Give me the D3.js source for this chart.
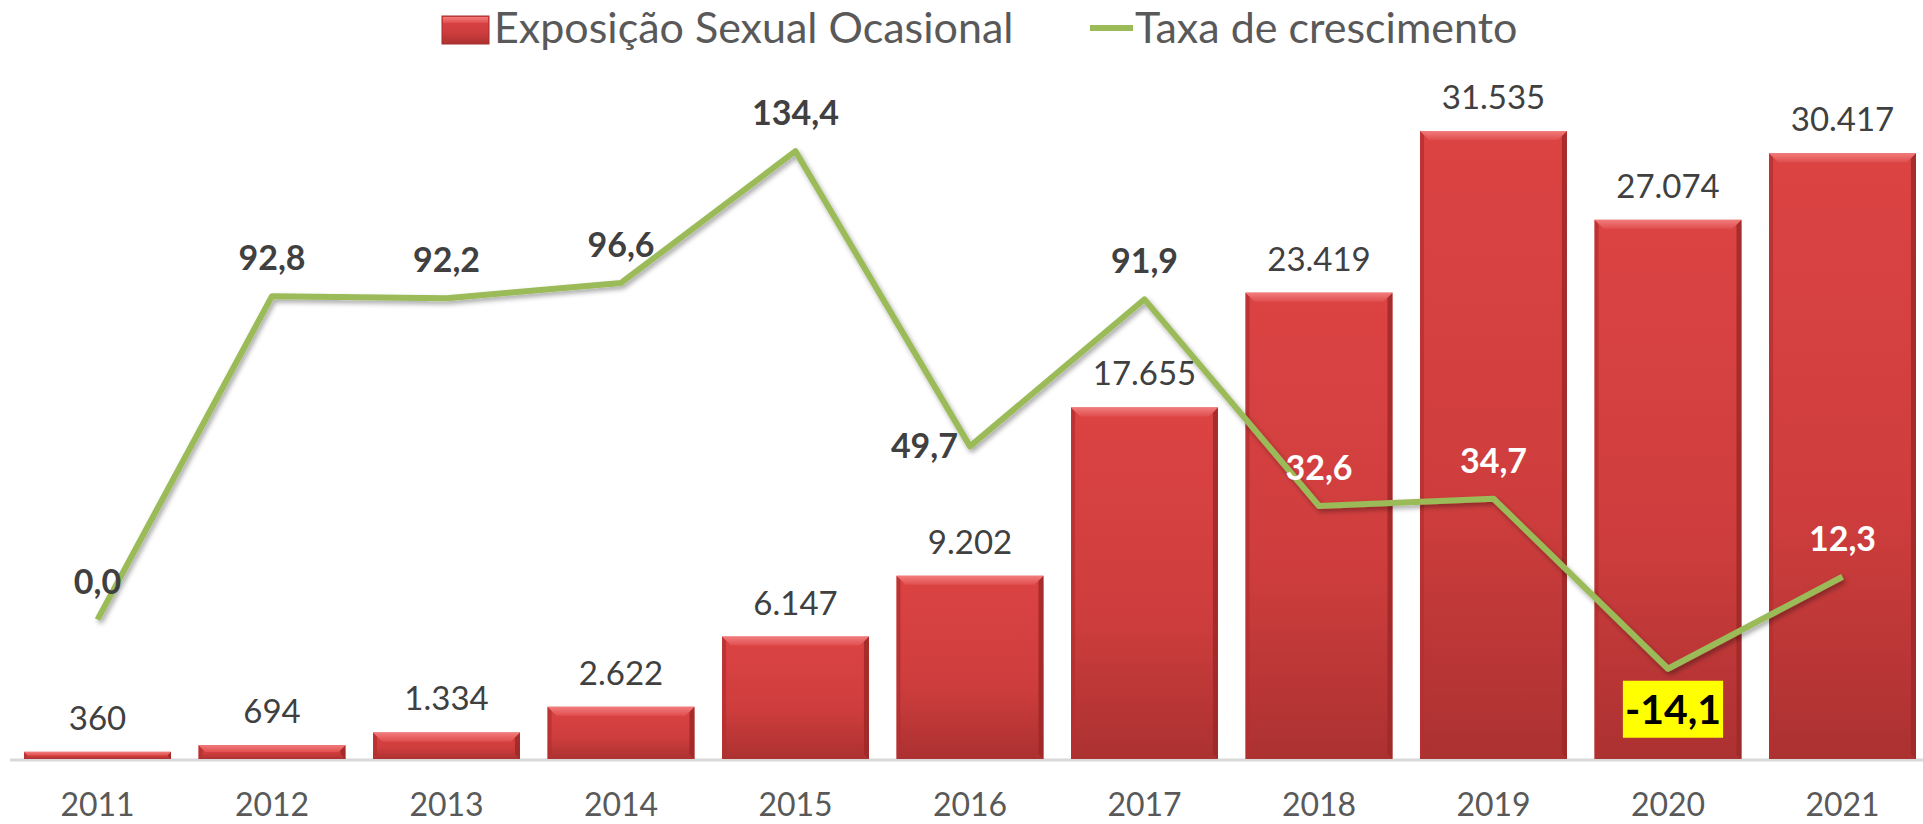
<!DOCTYPE html>
<html>
<head>
<meta charset="utf-8">
<script src="https://cdn.jsdelivr.net/npm/d3@7"></script>
<style>
  body { margin: 0; background: #fff; }
  svg { display: block; font-family: Lato, "Open Sans", sans-serif; }
</style>
</head>
<body>
<svg></svg>
<script>
let width = 1923, height = 824;

// data
const years = ["2011", "2012", "2013", "2014", "2015", "2016", "2017", "2018", "2019", "2020", "2021"];
const casos = [360, 694, 1334, 2622, 6147, 9202, 17655, 23419, 31535, 27074, 30417];
const taxa = [0.0, 92.8, 92.2, 96.6, 134.4, 49.7, 91.9, 32.6, 34.7, -14.1, 12.3];
const barAxis = [0, 35000];
const lineAxis = [-40, 160];

// label tweaks for the growth line
const labelPos = { "2016": "left", "2020": "below" };
const whiteLabels = ["2018", "2019", "2021"];

const pt = d3.formatLocale({ decimal: ",", thousands: ".", grouping: [3], currency: ["", ""], minus: "-" });
const fmtInt = pt.format(",d"), fmtDec = pt.format(".1f");

let svg = d3.select("svg")
    .attr("width", width)
    .attr("height", height)
    .attr("viewBox", "0 0 " + width + " " + height);

const baseY = 759, topY = 62;

let x = d3.scaleBand()
    .domain(years)
    .range([10.25, 1929.75])
    .paddingInner(0.158)
    .paddingOuter(0.079);

let y = d3.scaleLinear().domain(barAxis).range([baseY, topY]);
let y2 = d3.scaleLinear().domain(lineAxis).range([baseY, topY]);

let defs = svg.append("defs");
let g1 = defs.append("linearGradient").attr("id", "barFace").attr("x1", 0).attr("y1", 0).attr("x2", 0).attr("y2", 1);
g1.append("stop").attr("offset", "0%").attr("stop-color", "#DC4343");
g1.append("stop").attr("offset", "60%").attr("stop-color", "#CE3D3D");
g1.append("stop").attr("offset", "100%").attr("stop-color", "#AC3131");
let g2 = defs.append("linearGradient").attr("id", "barTop").attr("x1", 0).attr("y1", 0).attr("x2", 0).attr("y2", 1);
g2.append("stop").attr("offset", "0%").attr("stop-color", "#F27C7C");
g2.append("stop").attr("offset", "100%").attr("stop-color", "#E04E4E");

let shadow = defs.append("filter").attr("id", "shadow")
    .attr("x", "-10%").attr("y", "-10%").attr("width", "120%").attr("height", "130%");
shadow.append("feDropShadow")
    .attr("dx", 2).attr("dy", 3).attr("stdDeviation", 2.5)
    .attr("flood-color", "#000").attr("flood-opacity", 0.35);

// category axis line
svg.append("line")
    .attr("x1", 10).attr("x2", width)
    .attr("y1", baseY + 1).attr("y2", baseY + 1)
    .attr("stroke", "#D9D9D9")
    .attr("stroke-width", 3);

// bars with a simple bevel
let bars = svg.append("g").attr("class", "bars")
    .selectAll("g")
    .data(years.map((d, i) => ({ year: d, v: casos[i] })))
    .enter()
    .append("g");

bars.append("rect")
    .attr("x", d => x(d.year))
    .attr("y", d => y(d.v))
    .attr("width", x.bandwidth())
    .attr("height", d => baseY - y(d.v))
    .attr("fill", "url(#barFace)");

function bevel(d) {
    let x0 = x(d.year), x1 = x0 + x.bandwidth(), y0 = y(d.v);
    let b = Math.min(9, (baseY - y0) / 2);
    return "M" + x0 + "," + y0 + "L" + x1 + "," + y0 + "L" + (x1 - b) + "," + (y0 + b) + "L" + (x0 + b) + "," + (y0 + b) + "Z";
}
function leftEdge(d) {
    let x0 = x(d.year), y0 = y(d.v);
    let b = Math.min(4, (baseY - y0) / 2);
    return "M" + x0 + "," + y0 + "L" + (x0 + b) + "," + (y0 + b) + "L" + (x0 + b) + "," + (baseY - b) + "L" + x0 + "," + baseY + "Z";
}
function rightEdge(d) {
    let x1 = x(d.year) + x.bandwidth(), y0 = y(d.v);
    let b = Math.min(5, (baseY - y0) / 2);
    return "M" + x1 + "," + y0 + "L" + (x1 - b) + "," + (y0 + b) + "L" + (x1 - b) + "," + (baseY - b) + "L" + x1 + "," + baseY + "Z";
}
bars.append("path").attr("d", leftEdge).attr("fill", "#B53030").attr("opacity", 0.8);
bars.append("path").attr("d", rightEdge).attr("fill", "#9E2828").attr("opacity", 0.85);
bars.append("path").attr("d", bevel).attr("fill", "url(#barTop)");

// bar value labels
svg.append("g").attr("class", "bar-labels")
    .selectAll("text")
    .data(years.map((d, i) => ({ year: d, v: casos[i] })))
    .enter()
    .append("text")
    .attr("x", d => x(d.year) + x.bandwidth() / 2)
    .attr("y", d => y(d.v) - 22)
    .attr("text-anchor", "middle")
    .attr("font-size", 33)
    .attr("fill", "#404040")
    .text(d => fmtInt(d.v));

// year labels
svg.append("g").attr("class", "x-axis")
    .selectAll("text")
    .data(years)
    .enter()
    .append("text")
    .attr("x", d => x(d) + x.bandwidth() / 2)
    .attr("y", 816)
    .attr("text-anchor", "middle")
    .attr("font-size", 32)
    .attr("fill", "#595959")
    .text(d => d);

// growth line
let pts = years.map((d, i) => ({ year: d, v: taxa[i], px: x(d) + x.bandwidth() / 2, py: y2(taxa[i]) }));

svg.append("path")
    .datum(pts)
    .attr("fill", "none")
    .attr("stroke", "#9BBB59")
    .attr("stroke-width", 6)
    .attr("stroke-linejoin", "round")
    .attr("filter", "url(#shadow)")
    .attr("d", d3.line().x(d => d.px).y(d => d.py));

// growth labels
let lab = svg.append("g").attr("class", "line-labels");
pts.forEach(p => {
    let pos = labelPos[p.year] || "above";
    let t = lab.append("text")
        .attr("font-weight", "bold")
        .attr("font-size", 34)
        .attr("fill", whiteLabels.includes(p.year) ? "#FFFFFF" : "#404040")
        .text(fmtDec(p.v));
    if (pos === "above") {
        t.attr("x", p.px).attr("y", p.py - 26).attr("text-anchor", "middle");
    } else if (pos === "left") {
        t.attr("x", p.px - 12).attr("y", p.py + 12).attr("text-anchor", "end");
    } else {
        t.attr("x", p.px + 5).attr("y", p.py + 55).attr("text-anchor", "middle")
            .attr("font-size", 41).attr("fill", "#000");
        let bb = t.node().getBBox();
        lab.insert("rect", "text")
            .attr("x", bb.x - 2).attr("y", p.py + 12)
            .attr("width", bb.width + 4).attr("height", 57)
            .attr("fill", "#FFFF00");
    }
});

// legend
let legend = svg.append("g").attr("class", "legend");
legend.append("rect")
    .attr("x", 442).attr("y", 16).attr("width", 47).attr("height", 28)
    .attr("fill", "url(#barFace)")
    .attr("stroke", "#A42C2C").attr("stroke-width", 1);
legend.append("rect")
    .attr("x", 443).attr("y", 17).attr("width", 45).attr("height", 6)
    .attr("fill", "url(#barTop)");
legend.append("text")
    .attr("x", 494).attr("y", 43)
    .attr("font-size", 43)
    .attr("fill", "#595959")
    .text("Exposição Sexual Ocasional");
legend.append("line")
    .attr("x1", 1090).attr("x2", 1133)
    .attr("y1", 28).attr("y2", 28)
    .attr("stroke", "#9BBB59").attr("stroke-width", 6);
legend.append("text")
    .attr("x", 1135).attr("y", 43)
    .attr("font-size", 43)
    .attr("fill", "#595959")
    .text("Taxa de crescimento");
</script>
</body>
</html>
